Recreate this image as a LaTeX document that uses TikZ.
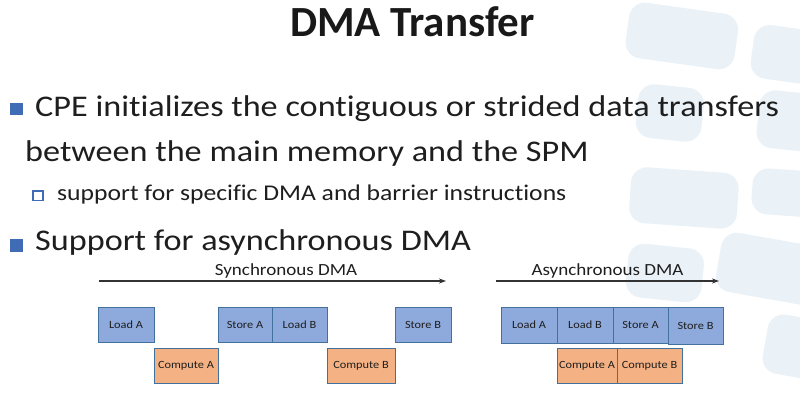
\documentclass[tikz,border=0pt]{standalone}
\usepackage{fontspec}
\setmainfont{Carlito}[Ligatures=CommonOff]
\newfontfamily\bodyfont{Carlito}[FakeStretch=1.14, Ligatures=CommonOff]
\newfontfamily\lblfont{Carlito}[FakeStretch=1.12, Ligatures=CommonOff]
\usetikzlibrary{arrows.meta}
\definecolor{blobc}{HTML}{EAF2F8}
\definecolor{bfill}{HTML}{8EA9DB}
\definecolor{ofill}{HTML}{F4B183}
\definecolor{bord}{HTML}{41719C}
\definecolor{bulc}{HTML}{3F6CB4}
\definecolor{txt}{HTML}{1E1E1E}
\begin{document}
\begin{tikzpicture}[x=1pt,y=-1pt,
  blob/.style={fill=blobc, rounded corners=16pt},
  dmabox/.style={draw=bord, line width=0.8pt, minimum height=35pt, inner sep=0pt, text=txt, font=\fontsize{11}{13}\lblfont},
  bbox/.style={dmabox, fill=bfill},
  obox/.style={dmabox, fill=ofill},
  tline/.style={draw=black!80, line width=1.1pt, -{Stealth[length=7pt,width=5pt]}},
  txtn/.style={inner sep=0pt, anchor=base west, text=txt},
  bul/.style={fill=bulc},
  subbul/.style={draw=bulc, line width=1.4pt, fill=white}
]
\useasboundingbox (0,0) rectangle (800,403);
\fill[white] (0,0) rectangle (800,403);
% background blobs
\fill[blob, rotate around={-8:(682,35)}] (627,8) rectangle (737,64);
\fill[blob, rotate around={-8:(790,55)}] (752,28) rectangle (830,82);
\fill[blob, rotate around={-6:(670,112)}] (637,86) rectangle (703,140);
\fill[blob, rotate around={-6:(790,120)}] (758,92) rectangle (830,150);
\fill[blob, rotate around={-4:(684,197)}] (630,170) rectangle (738,226);
\fill[blob, rotate around={-4:(790,193)}] (752,170) rectangle (830,216);
\fill[blob, rotate around={-6:(665,272)}] (627,246) rectangle (703,300);
\fill[blob, rotate around={-10:(765,268)}] (718,238) rectangle (830,298);
\fill[blob, rotate around={-10:(785,345)}] (765,315) rectangle (830,375);

% title
\node[inner sep=0pt, anchor=base, text=black!90, font=\fontsize{43}{48}\selectfont\bfseries] (title) at (412.5,37) {DMA Transfer};

% bullets
\fill[bul] (10,103) rectangle (23,115);
\node[txtn, font=\fontsize{30}{34}\bodyfont] (b1) at (35,117) {CPE initializes the contiguous or strided data transfers};
\node[txtn, font=\fontsize{30}{34}\bodyfont] (b1b) at (25,162) {between the main memory and the SPM};
\filldraw[subbul] (33,191) rectangle (43,200.5);
\node[txtn, font=\fontsize{22.5}{26}\bodyfont] (b1s) at (57,201) {support for specific DMA and barrier instructions};
\fill[bul] (10,239) rectangle (23,252);
\node[txtn, font=\fontsize{30}{34}\bodyfont] (b2) at (35,251) {Support for asynchronous DMA};

% synchronous
\coordinate (sa0) at (99,281);
\coordinate (sa1) at (446,281);
\draw[tline] (sa0) -- (sa1);
\node[inner sep=0pt, anchor=base, text=txt, font=\fontsize{17}{20}\lblfont] (slab) at (286,276) {Synchronous DMA};
\node[bbox, minimum width=56pt] (sLA) at (126,324.5) {Load A};
\node[obox, minimum width=64pt] (sCA) at (186,365.5) {Compute A};
\node[bbox, minimum width=54pt] (sSA) at (245,324.5) {Store A};
\node[bbox, minimum width=55pt] (sLB) at (299.5,324.5) {Load B};
\node[obox, minimum width=68pt] (sCB) at (361,365.5) {Compute B};
\node[bbox, minimum width=56pt] (sSB) at (423,324.5) {Store B};

% asynchronous
\coordinate (aa0) at (496,281);
\coordinate (aa1) at (719,281);
\draw[tline] (aa0) -- (aa1);
\node[inner sep=0pt, anchor=base, text=txt, font=\fontsize{17}{20}\lblfont] (alab) at (607.5,276) {Asynchronous DMA};
\node[bbox, minimum width=56pt, minimum height=36pt] (aLA) at (529,325) {Load A};
\node[bbox, minimum width=56pt, minimum height=36pt] (aLB) at (585,325) {Load B};
\node[bbox, minimum width=55pt, minimum height=36pt] (aSA) at (640.5,325) {Store A};
\node[bbox, minimum width=55pt, minimum height=37pt] (aSB) at (695.5,325.5) {Store B};
\node[obox, minimum width=60pt] (aCA) at (587,365.5) {Compute A};
\node[obox, minimum width=65pt] (aCB) at (649.5,365.5) {Compute B};
\end{tikzpicture}
\end{document}
